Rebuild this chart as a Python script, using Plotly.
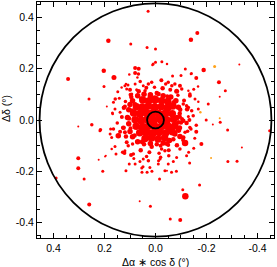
import plotly.graph_objects as go

# (dx, dy, marker diameter)
core_stars = [
    (0.050, 0.078, 7), (0.027, 0.074, 7), (0.002, 0.080, 8), (-0.024, 0.075, 7), (-0.048, 0.072, 7),
    (0.075, 0.052, 7), (0.052, 0.049, 8), (0.028, 0.055, 7), (0.003, 0.050, 8), (-0.022, 0.052, 7),
    (-0.047, 0.048, 8), (-0.068, 0.055, 7),
    (0.086, 0.027, 7), (0.061, 0.024, 8), (0.036, 0.028, 8), (0.012, 0.026, 8), (-0.014, 0.023, 8),
    (-0.040, 0.027, 8), (-0.066, 0.024, 7),
    (0.080, 0.001, 7), (0.056, -0.002, 8), (0.031, 0.003, 8), (0.006, 0.000, 8), (-0.020, 0.002, 8),
    (-0.044, -0.001, 8), (-0.071, 0.003, 7),
    (0.076, -0.024, 7), (0.050, -0.027, 8), (0.026, -0.022, 8), (0.001, -0.026, 8), (-0.025, -0.023, 8),
    (-0.051, -0.026, 8), (-0.076, -0.022, 7),
    (0.062, -0.050, 7), (0.036, -0.048, 8), (0.011, -0.052, 8), (-0.014, -0.047, 8), (-0.040, -0.051, 7),
    (-0.066, -0.046, 7),
    (0.041, -0.072, 7), (0.016, -0.070, 7), (-0.010, -0.074, 7), (-0.036, -0.069, 7),
    (0.100, 0.060, 5), (0.090, 0.075, 5), (0.105, 0.040, 5), (0.095, 0.090, 4), (0.070, 0.095, 5),
    (0.045, 0.100, 5), (0.020, 0.098, 5), (-0.005, 0.105, 4), (-0.030, 0.095, 5), (-0.060, 0.090, 5),
    (-0.080, 0.075, 5), (-0.090, 0.050, 5), (-0.095, 0.025, 4),
    (0.110, 0.010, 5), (0.105, -0.015, 5), (0.125, -0.030, 4), (0.100, -0.045, 5), (0.090, -0.065, 5),
    (0.070, -0.085, 5), (0.045, -0.095, 4), (0.020, -0.092, 5), (-0.005, -0.095, 4), (-0.030, -0.090, 5),
    (-0.055, -0.080, 5),
    (-0.076, -0.055, 5), (-0.096, -0.064, 5), (-0.109, -0.068, 4), (-0.116, -0.090, 6), (-0.090, -0.040, 5),
    (-0.100, -0.010, 4), (-0.085, 0.010, 5), (-0.074, -0.003, 4), (-0.089, -0.009, 4), (-0.109, -0.003, 4),
    (-0.122, -0.012, 4), (-0.139, -0.035, 3),
]

ring_stars = [
    (0.104, 0.006, 4), (0.092, 0.038, 3.5), (0.080, 0.060, 4.5), (0.056, 0.084, 4), (0.021, 0.092, 4.5),
    (-0.012, 0.101, 4), (-0.046, 0.093, 3.5), (-0.072, 0.068, 4.5), (-0.097, 0.040, 4), (-0.104, 0.004, 3.5),
    (-0.095, -0.030, 4.5), (-0.070, -0.075, 4), (-0.045, -0.092, 4.5), (-0.020, -0.100, 3.5), (0.015, -0.104, 4),
    (0.052, -0.085, 4.5), (0.082, -0.060, 4), (0.098, -0.032, 3.5),
    (0.132, 0.012, 3.5), (0.124, 0.048, 4), (0.118, 0.072, 3), (0.098, 0.098, 3.5), (0.066, 0.112, 4),
    (0.036, 0.126, 3.5), (0.004, 0.128, 3), (-0.028, 0.124, 4), (-0.058, 0.118, 3.5), (-0.088, 0.096, 3),
    (-0.112, 0.076, 3.5), (-0.124, 0.042, 4), (-0.133, 0.000, 3.5), (-0.126, -0.044, 3), (-0.108, -0.078, 3.5),
    (-0.084, -0.098, 4), (-0.052, -0.118, 3.5), (-0.014, -0.130, 3), (0.024, -0.126, 3.5), (0.058, -0.118, 4),
    (0.090, -0.094, 3), (0.116, -0.064, 4), (0.128, -0.030, 3.5),
    (0.158, 0.082, 3), (0.150, -0.012, 3), (0.148, 0.110, 2.5), (0.060, 0.150, 3), (-0.040, 0.140, 3),
    (-0.150, 0.120, 2.5), (-0.160, -0.020, 3), (-0.150, -0.110, 2.5), (-0.020, -0.145, 3), (0.085, -0.150, 2.5),
]

halo_stars = [
    (0.185, 0.309, 4), (0.097, 0.296, 2.5), (0.343, 0.160, 3.5), (0.203, 0.192, 4), (0.163, 0.166, 4.5),
    (0.202, 0.131, 2.5), (0.261, 0.082, 2.5), (0.303, -0.025, 1.5), (0.250, -0.019, 3), (0.216, -0.038, 3),
    (0.191, 0.053, 1.5), (0.159, 0.043, 2.5), (0.120, 0.053, 3.5), (0.108, 0.136, 2.5), (0.113, 0.121, 2.5),
    (0.080, 0.203, 3.5),
    (0.029, 0.424, 2.5), (-0.164, 0.339, 3.5), (-0.139, 0.313, 4), (0.033, 0.283, 2.5), (0.000, 0.277, 2.5),
    (0.000, 0.225, 2.5), (-0.025, 0.227, 2.5), (-0.045, 0.218, 2), (0.012, 0.214, 2), (0.066, 0.200, 3.5),
    (-0.117, 0.199, 2.5), (-0.189, 0.195, 4), (-0.141, 0.181, 2.5), (-0.160, 0.164, 3.5), (-0.067, 0.172, 2.5),
    (-0.023, 0.155, 3.5), (-0.249, 0.147, 3.5), (-0.167, 0.131, 2), (-0.274, 0.114, 2.5), (-0.252, 0.091, 1.5),
    (-0.199, 0.000, 2.5), (-0.225, -0.018, 1.5), (-0.254, -0.009, 2.5), (-0.283, -0.039, 2.5),
    (-0.448, -0.042, 2.5), (-0.329, 0.216, 1.5),
    (-0.160, -0.046, 3.5), (-0.180, -0.094, 3.5), (-0.154, -0.071, 2.5), (-0.284, -0.162, 2.5),
    (-0.320, -0.161, 2.5), (-0.339, -0.107, 1.5), (-0.130, -0.126, 2.5), (-0.173, -0.253, 2.5),
    (-0.107, -0.272, 2.5), (-0.117, -0.297, 6), (0.020, -0.336, 2.5), (0.062, -0.317, 1.5),
    (-0.058, -0.386, 2.5), (-0.097, -0.390, 3.5), (-0.016, -0.230, 2.5), (-0.045, -0.198, 1.5),
    (-0.082, -0.200, 2.5), (-0.012, -0.159, 2.5), (-0.052, -0.139, 3), (0.053, -0.204, 2.5),
    (0.033, -0.204, 2.5), (0.014, -0.200, 2.5), (0.049, -0.182, 2.5), (-0.134, -0.168, 2.5),
    (0.303, -0.149, 3.5), (0.303, -0.188, 3.5), (0.223, -0.155, 1.5), (0.280, -0.230, 2.5),
    (0.207, -0.200, 2.5), (0.390, -0.226, 2.5), (0.260, -0.329, 3.5), (0.195, -0.139, 1.5),
    (0.159, -0.103, 2.5), (0.155, -0.133, 2.5), (0.122, -0.129, 3.5), (0.096, -0.136, 3.5),
    (0.103, -0.172, 2.5), (0.080, -0.172, 2.5), (0.116, -0.198, 2.5), (0.178, -0.055, 2.5),
    (0.146, -0.061, 5), (0.218, -0.042, 2.5),
    (0.009, 0.218, 2.5), (0.103, 0.177, 2), (0.080, 0.183, 3.5), (0.067, 0.179, 3), (0.071, 0.166, 2),
    (0.133, 0.127, 2), (0.116, 0.140, 2), (0.100, 0.118, 3.5), (0.074, 0.118, 2.5), (0.093, 0.101, 2.5),
    (0.048, 0.134, 2.5), (0.028, 0.140, 3), (0.015, 0.147, 3), (0.041, 0.114, 3), (0.165, 0.069, 2.5),
    (0.142, 0.085, 2.5), (0.169, 0.027, 2.5), (0.139, 0.030, 2.5),
    (-0.100, 0.173, 2.5), (-0.139, 0.179, 2), (-0.050, 0.147, 3), (-0.076, 0.140, 3), (-0.096, 0.134, 3.5),
    (-0.083, 0.112, 4.5), (-0.129, 0.114, 2), (-0.135, 0.095, 3.5), (-0.155, 0.082, 2.5), (-0.168, 0.071, 2),
    (-0.207, 0.062, 2.5), (-0.168, 0.043, 2.5), (-0.109, 0.062, 3), (-0.129, 0.049, 3), (-0.142, 0.036, 3),
    (-0.096, 0.013, 3.5), (-0.129, 0.014, 2.5),
    (0.176, -0.035, 2.5), (0.139, -0.046, 3.5), (0.120, -0.048, 3.5), (0.113, -0.087, 3.5),
    (0.107, -0.100, 3), (0.172, -0.113, 2), (0.129, -0.126, 3), (0.198, -0.142, 1.5), (0.061, -0.162, 2.5),
    (0.035, -0.142, 3), (0.028, -0.159, 3), (0.054, -0.187, 2.5), (0.022, -0.185, 2.5),
    (-0.096, -0.113, 3), (-0.024, -0.113, 3), (-0.037, -0.120, 3), (-0.018, -0.152, 2.5),
    (-0.011, -0.172, 2.5), (-0.070, -0.162, 2.5), (-0.037, -0.198, 2.5), (-0.063, -0.204, 2.5),
    (-0.031, -0.090, 3.5), (-0.050, -0.097, 3.5),
    (0.168, 0.023, 2), (0.120, 0.134, 2.5), (0.080, 0.140, 2.5), (-0.064, 0.134, 3), (-0.103, 0.121, 3),
    (-0.135, 0.101, 3), (-0.122, 0.056, 3), (-0.148, 0.017, 3), (-0.135, -0.029, 3), (-0.116, -0.048, 3),
    (0.165, -0.035, 3), (0.172, -0.068, 2.5), (0.120, -0.120, 2.5), (0.087, -0.133, 3), (0.048, -0.152, 2.5),
    (-0.050, -0.172, 2.5), (-0.083, -0.146, 2.5), (-0.122, -0.139, 2.5),
]

orange_stars = [
    (-0.232, 0.209, 2.5), (-0.176, 0.030, 2), (-0.252, 0.007, 1.5), (-0.218, -0.148, 1.5),
]

field_radius = 0.455
center_radius = 0.033

x_tick_vals = [0.4, 0.2, 0.0, -0.2, -0.4]
x_tick_text = ["0.4", "0.2", "0.0", "-0.2", "-0.4"]
y_tick_vals = [-0.4, -0.2, 0.0, 0.2, 0.4]
y_tick_text = ["-0.4", "-0.2", "0.0", "0.2", "0.4"]
minor_vals = [-0.45, -0.35, -0.3, -0.25, -0.15, -0.1, -0.05, 0.05, 0.1, 0.15, 0.25, 0.3, 0.35, 0.45]

red_pts = core_stars + ring_stars + halo_stars
fig = go.Figure()
fig.add_trace(go.Scatter(
    x=[p[0] for p in red_pts], y=[p[1] for p in red_pts], mode="markers",
    marker=dict(size=[p[2] + 0.5 for p in red_pts], color="#ff0000", opacity=1, line=dict(width=0)),
    showlegend=False, hoverinfo="skip"))
fig.add_trace(go.Scatter(
    x=[p[0] for p in orange_stars], y=[p[1] for p in orange_stars], mode="markers",
    marker=dict(size=[p[2] + 0.5 for p in orange_stars], color="#ffa31a", opacity=1, line=dict(width=0)),
    showlegend=False, hoverinfo="skip"))

fig.add_shape(type="circle", xref="x", yref="y",
              x0=-field_radius, x1=field_radius, y0=-field_radius, y1=field_radius,
              line=dict(color="black", width=1.8))
fig.add_shape(type="circle", xref="x", yref="y",
              x0=-center_radius, x1=center_radius, y0=-center_radius, y1=center_radius,
              line=dict(color="black", width=1.8))

font = dict(family="Liberation Sans, Arial, sans-serif", size=10.5, color="black")
axis_common = dict(showgrid=False, zeroline=False, showline=True, linecolor="black", linewidth=1,
                   mirror="ticks", ticks="inside", ticklen=5, tickwidth=1, tickcolor="black",
                   tickfont=font, automargin=False,
                   minor=dict(tickvals=minor_vals, ticks="inside", ticklen=3, tickwidth=1,
                              tickcolor="black", showgrid=False))
fig.update_xaxes(range=[0.465, -0.465], tickmode="array", tickvals=x_tick_vals, ticktext=x_tick_text,
                 **axis_common)
fig.update_yaxes(range=[-0.46, 0.46], tickmode="array", tickvals=y_tick_vals, ticktext=y_tick_text,
                 **axis_common)

fig.add_annotation(text="Δα ∗ cos δ (°)", xref="paper", yref="paper", x=0.5, y=0,
                   yshift=-24, xanchor="center", yanchor="middle", showarrow=False, font=font)
fig.add_annotation(text="Δδ (°)", xref="paper", yref="paper", x=0, y=0.547,
                   xshift=-31, xanchor="center", yanchor="middle", textangle=-90,
                   showarrow=False, font=font)

fig.update_layout(width=277, height=267, margin=dict(l=37, r=3, t=2, b=29, autoexpand=False),
                  plot_bgcolor="white", paper_bgcolor="white", font=font)
fig.write_html("out.html", config={"displayModeBar": False},
               post_script="document.body.style.margin='0';")
